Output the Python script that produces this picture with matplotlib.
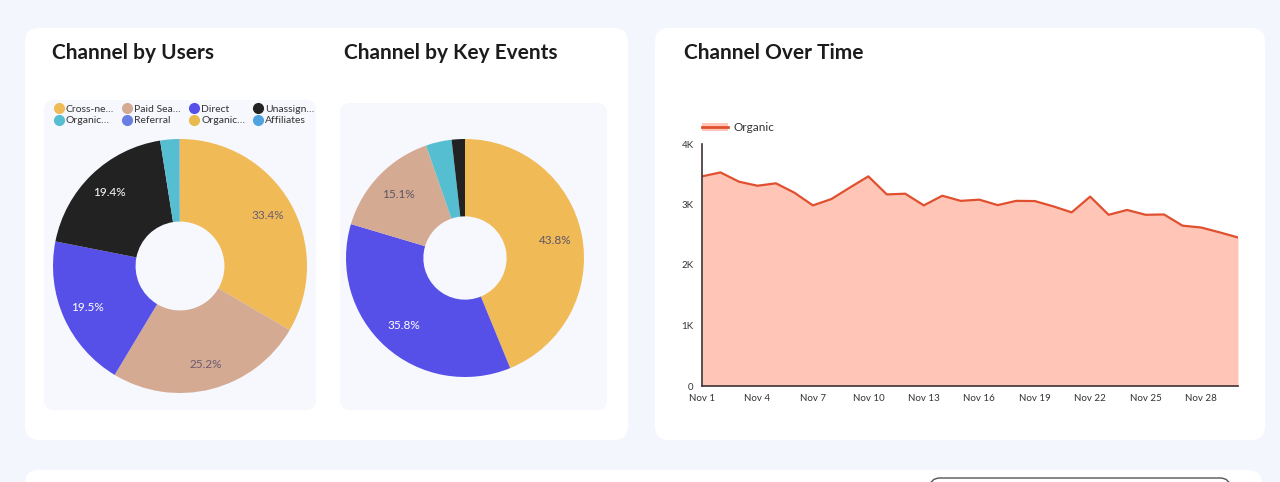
import matplotlib.pyplot as plt
from matplotlib.patches import FancyBboxPatch, Patch
from matplotlib.lines import Line2D

# data
user_labels = ['Cross-ne…', 'Paid Sea…', 'Direct', 'Unassign…', 'Organic…', 'Referral', 'Organic…', 'Affiliates']
user_values = [33.4, 25.2, 19.5, 19.4, 2.4, 0.05, 0.03, 0.02]
user_colors = ['#F0BA57', '#D5AA92', '#5750E8', '#222222', '#55BED1', '#6B7FE3', '#E8B94C', '#4FA3E0']

event_values = [43.8, 35.8, 15.1, 3.5, 1.8]
event_colors = ['#F0BA57', '#5750E8', '#D5AA92', '#55BED1', '#222222']

day_labels = ['Nov %d' % d for d in range(1, 31)]
organic = [3465, 3530, 3377, 3310, 3350, 3195, 2985, 3090, 3280, 3465,
           3167, 3178, 2985, 3145, 3060, 3080, 2990, 3060, 3057, 2970,
           2870, 3130, 2830, 2910, 2830, 2835, 2650, 2620, 2540, 2455]

plt.rcParams['font.family'] = ['Lato', 'DejaVu Sans']

W, H = 1280, 482
fig = plt.figure(figsize=(12.8, 4.82), dpi=100)
fig.patch.set_facecolor('#F3F6FC')
bg = fig.add_axes([0, 0, 1, 1])
bg.set_xlim(0, W)
bg.set_ylim(H, 0)
bg.axis('off')


def box(x0, y0, x1, y1, fc, r, ec='none', lw=0):
    bg.add_patch(FancyBboxPatch((x0, y0), x1 - x0, y1 - y0,
                                boxstyle='round,pad=0,rounding_size=%d' % r,
                                fc=fc, ec=ec, lw=lw))


def ax_at(x0, y0, x1, y1):
    return fig.add_axes([x0 / W, 1 - y1 / H, (x1 - x0) / W, (y1 - y0) / H])


# cards
box(25, 28, 628, 440, 'white', 14)
box(655, 28, 1265, 440, 'white', 14)
box(25, 470, 1262, 520, 'white', 14)
box(930, 478, 1230, 510, 'white', 10, ec='#555555', lw=1)
box(44, 100, 316, 410, '#F6F8FD', 10)
box(340, 103, 607, 410, '#F6F8FD', 10)

bg.text(52, 53, 'Channel by Users', fontsize=15, fontweight='bold', color='#1c1c1c', va='center')
bg.text(344, 53, 'Channel by Key Events', fontsize=15, fontweight='bold', color='#1c1c1c', va='center')
bg.text(684, 53, 'Channel Over Time', fontsize=15, fontweight='bold', color='#1c1c1c', va='center')

# pie 1
ax1 = ax_at(53, 139, 307, 393)
w1, t1, a1 = ax1.pie(user_values, colors=user_colors, startangle=90, counterclock=False,
                     wedgeprops=dict(width=0.65, linewidth=0),
                     autopct=lambda p: '%.1f%%' % p if p > 5 else '', pctdistance=0.8,
                     textprops=dict(fontsize=8.5))
for t, c in zip(a1, ['#6a5c74', '#6a5c74', 'white', 'white']):
    t.set_color(c)
ax1.set_xlim(-1, 1)
ax1.set_ylim(-1, 1)

# legend fills column by column, so reorder to read row by row
order = [0, 4, 1, 5, 2, 6, 3, 7]
handles = [Line2D([], [], marker='o', ls='', markersize=7, color=user_colors[i]) for i in order]
ax1.legend(handles, [user_labels[i] for i in order], ncol=4, loc='center',
           bbox_to_anchor=(184 / W, 1 - 115 / H),
           bbox_transform=fig.transFigure, frameon=False, fontsize=7.5, handletextpad=0.15,
           columnspacing=0.8, labelspacing=0.2, handlelength=1.0, labelcolor='#333333')

# pie 2
ax2 = ax_at(346, 139, 584, 377)
w2, t2, a2 = ax2.pie(event_values, colors=event_colors, startangle=90, counterclock=False,
                     wedgeprops=dict(width=0.65, linewidth=0),
                     autopct=lambda p: '%.1f%%' % p if p > 5 else '', pctdistance=0.77,
                     textprops=dict(fontsize=8.5))
for t, c in zip(a2, ['#5e5566', 'white', '#5e5566']):
    t.set_color(c)
ax2.set_xlim(-1, 1)
ax2.set_ylim(-1, 1)

# area chart
ax3 = ax_at(702, 144, 1238, 386)
x = range(len(organic))
ax3.fill_between(x, organic, color='#FFC6B7', lw=0)
ax3.plot(x, organic, color='#E0502F', lw=1.6)
ax3.set_xlim(0, len(organic) - 1)
ax3.set_ylim(0, 4000)
ax3.set_yticks([0, 1000, 2000, 3000, 4000])
ax3.set_yticklabels(['0', '1K', '2K', '3K', '4K'])
ax3.set_xticks(list(range(0, 30, 3)))
ax3.set_xticklabels(day_labels[::3])
ax3.tick_params(length=0, labelsize=7, labelcolor='#333333', pad=6)
ax3.set_facecolor('none')
for s in ['top', 'right']:
    ax3.spines[s].set_visible(False)
ax3.spines['left'].set_color('#3d3434')
ax3.spines['bottom'].set_color('#3d3434')
ax3.spines['left'].set_linewidth(1.2)
ax3.spines['bottom'].set_linewidth(1.2)
ax3.legend([(Patch(fc='#FFC6B7', lw=0), Line2D([], [], color='#E0502F', lw=2))], ['Organic'],
           loc='lower left', bbox_to_anchor=(0.0, 1.045), frameon=False, fontsize=8.5,
           handlelength=2.2, handletextpad=0.5, labelcolor='#333333', borderaxespad=0, borderpad=0)

fig.savefig('out.png', dpi=100, facecolor=fig.get_facecolor())
